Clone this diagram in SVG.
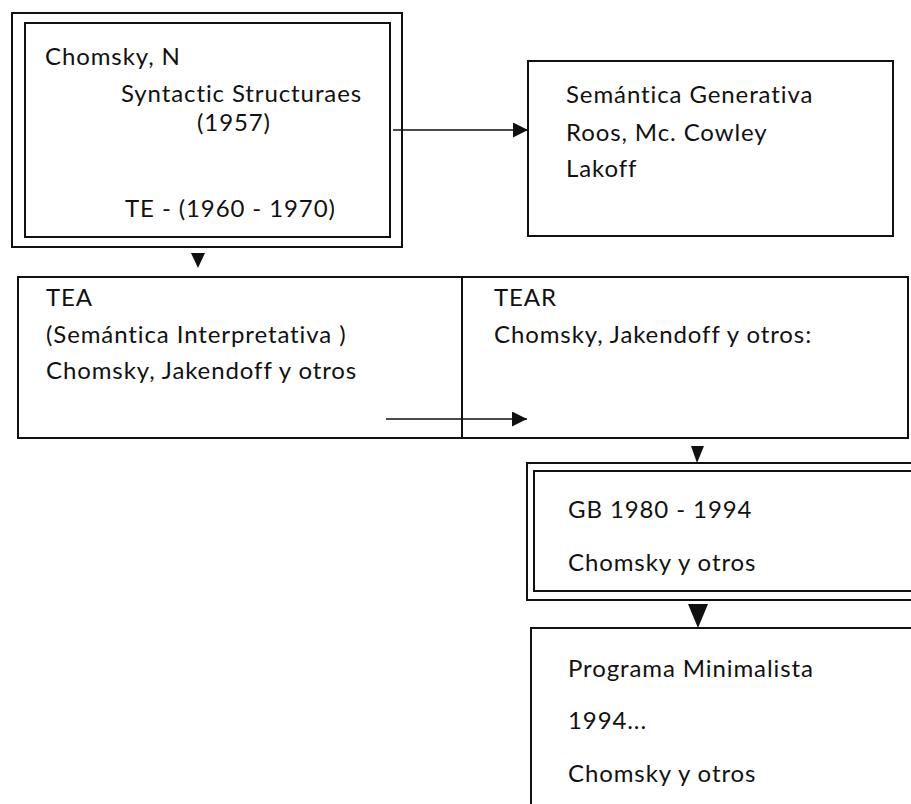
<svg xmlns="http://www.w3.org/2000/svg" width="911" height="804" viewBox="0 0 911 804">
  <style>
    .box { fill: none; stroke: #111; stroke-width: 2; }
    .edge { fill: none; stroke: #111; stroke-width: 1.6; }
    text { font-family: Lato, "Open Sans", "Liberation Sans", sans-serif; font-size: 24px; letter-spacing: 0.9px; fill: #111; }
  </style>
  <defs>
    <marker id="arrow" viewBox="0 0 10 10" refX="10" refY="5" markerWidth="20" markerHeight="15" markerUnits="userSpaceOnUse" orient="auto">
      <path d="M0,0 L10,5 L0,10 Z" fill="#111"/>
    </marker>
  </defs>
  <rect width="911" height="804" fill="#fff"/>

  <!-- TE: double frame -->
  <g id="te">
    <rect class="box" x="12" y="13" width="390" height="234"/>
    <rect class="box" x="25" y="23" width="365" height="214"/>
    <text x="45" y="65">Chomsky, N</text>
    <text x="121" y="102">Syntactic Structuraes</text>
    <text x="197" y="131">(1957)</text>
    <text x="125" y="217">TE - (1960 - 1970)</text>
  </g>

  <g id="semantica-generativa">
    <rect class="box" x="528" y="61" width="365" height="175"/>
    <text x="566" y="103">Semántica Generativa</text>
    <text x="566" y="141">Roos, Mc. Cowley</text>
    <text x="566" y="177">Lakoff</text>
  </g>

  <g id="tea">
    <rect class="box" x="18" y="277" width="444" height="161"/>
    <text x="46" y="306">TEA</text>
    <text x="46" y="343">(Semántica Interpretativa )</text>
    <text x="46" y="379">Chomsky, Jakendoff y otros</text>
  </g>

  <g id="tear">
    <rect class="box" x="462" y="277" width="446" height="161"/>
    <text x="494" y="306">TEAR</text>
    <text x="494" y="343">Chomsky, Jakendoff y otros:</text>
  </g>

  <!-- GB: double frame, runs off the right edge -->
  <g id="gb">
    <rect class="box" x="527" y="463" width="400" height="137"/>
    <rect class="box" x="534" y="471" width="400" height="120"/>
    <text x="568" y="518">GB 1980 - 1994</text>
    <text x="568" y="571">Chomsky y otros</text>
  </g>

  <g id="minimalista">
    <rect class="box" x="531" y="628" width="400" height="200"/>
    <text x="568" y="677">Programa Minimalista</text>
    <text x="568" y="729">1994...</text>
    <text x="568" y="782">Chomsky y otros</text>
  </g>

  <g id="connectors">
    <line class="edge" x1="393" y1="130" x2="528" y2="130" marker-end="url(#arrow)"/>
    <path d="M191,253 L205,253 L198,268 Z" fill="#111"/>
    <line class="edge" x1="386" y1="419" x2="527" y2="419" marker-end="url(#arrow)"/>
    <path d="M691,446 L704,446 L697,463 Z" fill="#111"/>
    <path d="M688,604 L708,604 L698,628 Z" fill="#111"/>
  </g>
</svg>
